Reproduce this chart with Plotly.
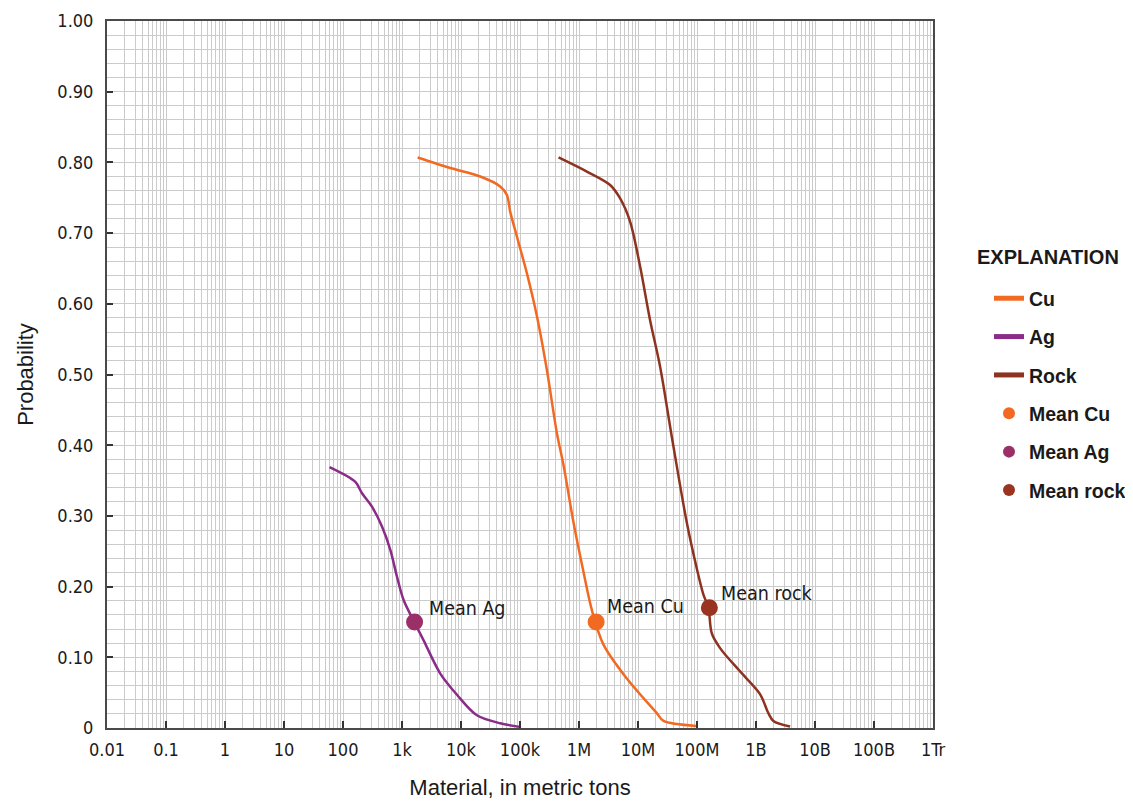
import numpy as np
import plotly.graph_objects as go

# ---- data ----
cu_x = [1840, 6580, 21200, 46200, 60000, 68300, 88700, 131000, 194000, 286000, 422000,
        546000, 806000, 1190000, 1650000, 2600000, 6470000, 20800000, 27000000, 96600000]
cu_p = [0.807, 0.792, 0.780, 0.766, 0.754, 0.730, 0.695, 0.643, 0.582, 0.506, 0.417,
        0.372, 0.291, 0.221, 0.167, 0.118, 0.070, 0.021, 0.010, 0.003]

ag_x = [59, 162, 210, 310, 458, 634, 822, 1065, 1634, 2323, 4457, 8550, 18600, 46200, 101000]
ag_p = [0.369, 0.348, 0.332, 0.313, 0.285, 0.252, 0.214, 0.181, 0.149, 0.124, 0.077, 0.047,
        0.018, 0.0066, 0.0015]

rock_x = [450000, 1360000, 3370000, 4980000, 7360000, 10900000, 16000000, 23700000, 37400000,
          67000000, 99000000, 128000000, 156000000, 178000000, 246000000, 537000000,
          1170000000, 1620000000, 1970000000, 3780000000]
rock_p = [0.807, 0.787, 0.768, 0.749, 0.716, 0.652, 0.577, 0.511, 0.412,
          0.291, 0.226, 0.189, 0.170, 0.134, 0.113, 0.080,
          0.048, 0.021, 0.010, 0.002]

mean_names = ["Mean Cu", "Mean Ag", "Mean rock"]
mean_labels = ["Mean Cu", "Mean Ag", "Mean rock"]
mean_x = [1950000, 1634, 162000000]
mean_p = [0.15, 0.15, 0.17]

x_tickvals = [1e-2, 1e-1, 1, 10, 100, 1e3, 1e4, 1e5, 1e6, 1e7, 1e8, 1e9, 1e10, 1e11, 1e12]
x_ticktext = ["0.01", "0.1", "1", "10", "100", "1k", "10k", "100k", "1M", "10M", "100M",
              "1B", "10B", "100B", "1Tr"]
y_tickvals = [0, 0.1, 0.2, 0.3, 0.4, 0.5, 0.6, 0.7, 0.8, 0.9, 1.0]
y_ticktext = ["0", "0.10", "0.20", "0.30", "0.40", "0.50", "0.60", "0.70", "0.80", "0.90", "1.00"]

# ---- styles ----
line_colors = {"Cu": "#F26A22", "Ag": "#8A2C88", "Rock": "#8E3320"}
mean_colors = ["#F26A22", "#9B2F68", "#9A3421"]
NARROW = "DejaVu Sans Condensed, Liberation Sans Narrow, sans-serif"
REG = "Liberation Sans, Arial, sans-serif"
GRID = "#cbcbcb"
AXIS = "#4a4a4a"

fig = go.Figure()
for i, (name, xs, ps) in enumerate([("Cu", cu_x, cu_p), ("Ag", ag_x, ag_p), ("Rock", rock_x, rock_p)]):
    fig.add_trace(go.Scatter(x=xs, y=ps, mode="lines", name=name,
                             line=dict(color=line_colors[name], width=2.5, shape="spline", smoothing=0.9),
                             legendgroup=f"g{i}", hoverinfo="skip"))
for j in range(3):
    fig.add_trace(go.Scatter(x=[mean_x[j]], y=[mean_p[j]], mode="markers", name=mean_names[j],
                             marker=dict(color=mean_colors[j], size=17),
                             legendgroup=f"m{j}", hoverinfo="skip"))

ann_shift = [(9, 15), (12, 13), (10, 14)]
for j in range(3):
    fig.add_annotation(x=np.log10(mean_x[j]), y=mean_p[j], xref="x", yref="y",
                       text=mean_labels[j], showarrow=False, xanchor="left", yanchor="middle",
                       xshift=ann_shift[j][0], yshift=ann_shift[j][1],
                       font=dict(family=NARROW, size=19.5, color="#1a1a1a"))

fig.add_annotation(x=1.0508, y=0.6662, xref="paper", yref="paper", text="<b>EXPLANATION</b>",
                   showarrow=False, xanchor="left", yanchor="middle",
                   font=dict(family=REG, size=20, color="#1a1a1a"))

fig.update_xaxes(type="log", range=[-2, 12], tickvals=x_tickvals, ticktext=x_ticktext,
                 showgrid=True, gridcolor=GRID, gridwidth=1,
                 minor=dict(dtick="D1", showgrid=True, gridcolor=GRID, gridwidth=1, ticks=""),
                 ticks="inside", ticklen=7, tickwidth=1.5, tickcolor="#333",
                 showline=True, linecolor=AXIS, linewidth=2, mirror=True,
                 tickfont=dict(family=NARROW, size=18, color="#1a1a1a"),
                 ticklabelstandoff=4,
                 title=dict(text="Material, in metric tons", standoff=21,
                            font=dict(family=REG, size=22, color="#1a1a1a")),
                 zeroline=False)
fig.update_yaxes(range=[0, 1], tickvals=y_tickvals, ticktext=y_ticktext,
                 showgrid=True, gridcolor=GRID, gridwidth=1,
                 minor=dict(dtick=0.02, showgrid=True, gridcolor=GRID, gridwidth=1, ticks=""),
                 ticks="inside", ticklen=6, tickwidth=1.5, tickcolor="#333",
                 showline=True, linecolor=AXIS, linewidth=2, mirror=True,
                 tickfont=dict(family=NARROW, size=18, color="#1a1a1a"),
                 ticklabelstandoff=8,
                 title=dict(text="Probability", standoff=18,
                            font=dict(family=REG, size=22, color="#1a1a1a")),
                 zeroline=False)

fig.update_layout(
    width=1125, height=796,
    margin=dict(l=99, r=200, t=13, b=76, autoexpand=False),
    paper_bgcolor="white", plot_bgcolor="white",
    showlegend=True,
    legend=dict(x=1.0678, y=0.635, xanchor="left", yanchor="top",
                font=dict(family=REG, size=19.5, color="#1a1a1a", weight="bold"),
                traceorder="grouped", tracegroupgap=10, itemsizing="constant",
                bgcolor="rgba(0,0,0,0)"),
)

fig.write_html("out.html")
